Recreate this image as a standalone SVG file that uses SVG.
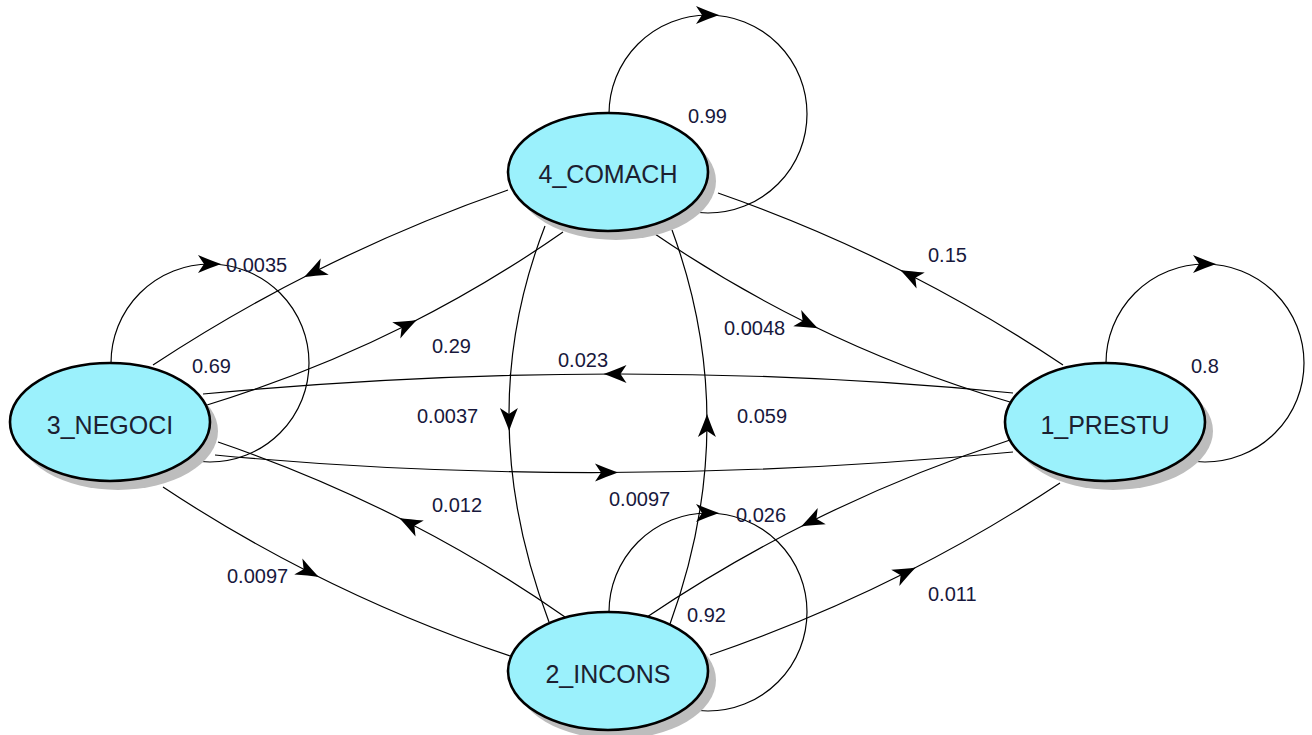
<svg xmlns="http://www.w3.org/2000/svg" width="1312" height="735" viewBox="0 0 1312 735">
<defs>
<style>
.edge{fill:none;stroke:#000;stroke-width:1.2;marker-mid:url(#arr)}
.shadow{fill:#bdbdbd;stroke:none}
.node{fill:#9bf1fc;stroke:#000;stroke-width:2.6}
.nlabel{font-family:"Liberation Sans",Arial,sans-serif;font-size:25px;fill:#1c2030;text-anchor:middle}
.elabel{font-family:"Liberation Sans",Arial,sans-serif;font-size:20px;fill:#18183c}
</style>
<marker id="arr" markerUnits="userSpaceOnUse" orient="auto" refX="0" refY="0" markerWidth="40" markerHeight="40" viewBox="-20 -20 40 40" overflow="visible">
<path d="M11,0 Q1,-3.5 -12,-9 L-6,0 L-12,9 Q1,3.5 11,0 Z" fill="#000"/>
</marker>
</defs>
<rect width="1312" height="735" fill="#fff"/>
<g id="connectors">
<path class="edge" d="M609,114 A99,99 0 0 1 708,15 A99,99 0 1 1 609,114"/>
<path class="edge" d="M111,363 A99,99 0 0 1 210,264 A99,99 0 1 1 111,363"/>
<path class="edge" d="M1106,363 A99,99 0 0 1 1205,264 A99,99 0 1 1 1106,363"/>
<path class="edge" d="M609,612 A99,99 0 0 1 708,513 A99,99 0 1 1 609,612"/>
<path class="edge" d="M508,190 Q407.7,224.9 314,272 Q230.9,313.7 153,365"/>
<path class="edge" d="M207,405 Q311.5,372.9 407,325 Q488.3,284.2 563,232"/>
<path class="edge" d="M1063,365 Q989,315.4 910,275 Q817.4,227.7 718,193"/>
<path class="edge" d="M655,234 Q728.8,284.4 808,323.5 Q905,371.2 1010,402"/>
<path class="edge" d="M1013,393 Q817,373.75 614.5,374 Q412,374.25 203,394"/>
<path class="edge" d="M215,455 Q407.5,473.25 607,472.5 Q806.5,471.75 1013,452"/>
<path class="edge" d="M545,226 Q508,321 509,420 Q510,519 549,622"/>
<path class="edge" d="M670,624 Q706.5,523.5 707,425 Q707.5,326.5 672,230"/>
<path class="edge" d="M565,617 Q489.8,564.5 409,523 Q318,476.1 218,442"/>
<path class="edge" d="M163,487 Q233.4,533.7 309,572 Q405.3,620.8 510,656"/>
<path class="edge" d="M1010,440 Q906.8,473.8 811,521.5 Q726.1,563.8 647,617"/>
<path class="edge" d="M710,655 Q812.2,619.9 906,572.5 Q986,532.2 1060,483"/>
</g>
<g id="edge-labels">
<text class="elabel" x="226" y="272">0.0035</text>
<text class="elabel" x="192" y="373">0.69</text>
<text class="elabel" x="432" y="353">0.29</text>
<text class="elabel" x="928" y="262">0.15</text>
<text class="elabel" x="724" y="335">0.0048</text>
<text class="elabel" x="558" y="367">0.023</text>
<text class="elabel" x="417" y="423">0.0037</text>
<text class="elabel" x="737" y="423">0.059</text>
<text class="elabel" x="609" y="506">0.0097</text>
<text class="elabel" x="432" y="512">0.012</text>
<text class="elabel" x="227" y="583">0.0097</text>
<text class="elabel" x="736" y="522">0.026</text>
<text class="elabel" x="928" y="601">0.011</text>
<text class="elabel" x="687" y="622">0.92</text>
<text class="elabel" x="688" y="123">0.99</text>
<text class="elabel" x="1191" y="373">0.8</text>
</g>
<g id="node-4">
<ellipse class="shadow" cx="616" cy="181" rx="100" ry="59"/>
<ellipse class="node" cx="608" cy="172" rx="100" ry="59"/>
<text class="nlabel" x="608" y="183">4_COMACH</text>
</g>
<g id="node-3">
<ellipse class="shadow" cx="118" cy="431" rx="100" ry="59"/>
<ellipse class="node" cx="110" cy="422" rx="100" ry="59"/>
<text class="nlabel" x="110" y="434">3_NEGOCI</text>
</g>
<g id="node-1">
<ellipse class="shadow" cx="1113" cy="431" rx="100" ry="59"/>
<ellipse class="node" cx="1105" cy="422" rx="100" ry="59"/>
<text class="nlabel" x="1105" y="434">1_PRESTU</text>
</g>
<g id="node-2">
<ellipse class="shadow" cx="616" cy="680" rx="100" ry="59"/>
<ellipse class="node" cx="608" cy="671" rx="100" ry="59"/>
<text class="nlabel" x="608" y="683">2_INCONS</text>
</g>
</svg>
